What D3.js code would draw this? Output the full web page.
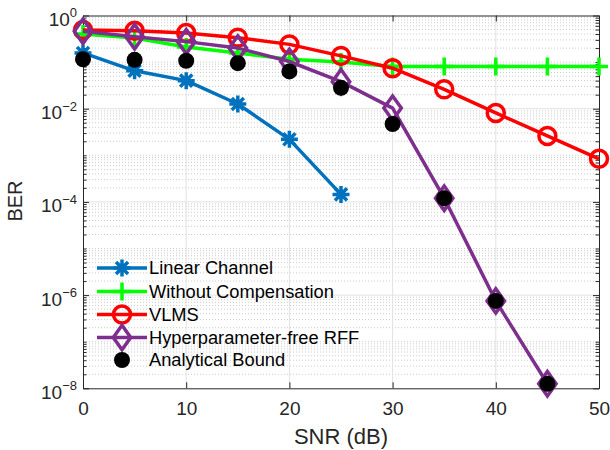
<!DOCTYPE html>
<html>
<head>
<meta charset="utf-8">
<script src="https://cdn.jsdelivr.net/npm/d3@7"></script>
<style>
  body { margin: 0; background: #fff; }
  svg { display: block; font-family: "Liberation Sans", Arial, Helvetica, sans-serif; }
</style>
</head>
<body>
<svg id="chart" width="610" height="450"></svg>
<script>
// data
const snr = [0, 5, 10, 15, 20, 25, 30, 35, 40, 45, 50];
const linearChannel = [0.157, 0.065, 0.04, 0.0126, 0.0022, 1.45e-4];
const withoutComp = [0.40, 0.33, 0.21, 0.156, 0.115, 0.10, 0.080, 0.080, 0.080, 0.080, 0.080];
const vlms = [0.49, 0.47, 0.42, 0.335, 0.24, 0.136, 0.074, 0.026, 0.0081, 0.0026, 8.4e-4];
const rff = [0.46, 0.35, 0.275, 0.20, 0.103, 0.038, 0.0103, 1.2e-4, 7.5e-7, 1.25e-8];
const bound = [0.115, 0.112, 0.107, 0.095, 0.063, 0.028, 0.0047, 1.2e-4, 7.5e-7, 1.25e-8];

const xTicks = [0, 10, 20, 30, 40, 50];
const yTicks = [1e0, 1e-2, 1e-4, 1e-6, 1e-8];
const yTickExp = ["0", "\u22122", "\u22124", "\u22126", "\u22128"];
const legendLabels = ["Linear Channel", "Without Compensation", "VLMS", "Hyperparameter-free RFF", "Analytical Bound"];

(() => {
  const width = 610;
  const height = 450;
  const margin = { top: 15.5, right: 11, bottom: 61.7, left: 83 };
  const innerWidth = width - margin.left - margin.right;
  const innerHeight = height - margin.top - margin.bottom;
  const axisColor = "#262626";

  const svg = d3.select("#chart");
  const g = svg.append("g")
    .attr("transform", `translate(${margin.left}, ${margin.top})`);

  const x = d3.scaleLinear().domain([0, 50]).range([0, innerWidth]);
  const y = d3.scaleLog().domain([1e-8, 1]).range([innerHeight, 0]);

  // minor values: 2..9 x 10^e plus the odd decades
  const minorVals = [];
  for (let e = -8; e < 0; e++) {
    for (let k = 1; k <= 9; k++) {
      const v = k * Math.pow(10, e);
      if (k === 1 && e % 2 === 0) continue;
      minorVals.push(v);
    }
  }

  // grid
  g.append("g").selectAll("line")
    .data(minorVals)
    .join("line")
    .attr("x1", 0).attr("x2", innerWidth)
    .attr("y1", d => y(d)).attr("y2", d => y(d))
    .attr("stroke", "#cccccc")
    .attr("stroke-width", 1)
    .attr("stroke-dasharray", "1,2");

  g.append("g").selectAll("line")
    .data(yTicks.slice(1, -1))
    .join("line")
    .attr("x1", 0).attr("x2", innerWidth)
    .attr("y1", d => y(d)).attr("y2", d => y(d))
    .attr("stroke", "#e2e2e2")
    .attr("stroke-width", 1);

  g.append("g").selectAll("line")
    .data(xTicks.slice(1, -1))
    .join("line")
    .attr("x1", d => x(d)).attr("x2", d => x(d))
    .attr("y1", 0).attr("y2", innerHeight)
    .attr("stroke", "#e2e2e2")
    .attr("stroke-width", 1);

  // axes
  const xAxis = g.append("g")
    .attr("transform", `translate(0, ${innerHeight})`)
    .call(d3.axisBottom(x).tickValues(xTicks).tickSize(-6).tickPadding(13).tickSizeOuter(0));
  xAxis.selectAll("text").style("font-size", "19px").attr("fill", axisColor);

  g.append("g")
    .call(d3.axisTop(x).tickValues(xTicks).tickSize(-6).tickFormat("").tickSizeOuter(0));

  const yAxis = g.append("g")
    .call(d3.axisLeft(y).tickValues(yTicks).tickSize(-6).tickPadding(6).tickSizeOuter(0).tickFormat(""));
  yAxis.selectAll(".tick text").each(function (d, i) {
    const t = d3.select(this).attr("dy", 10).attr("fill", axisColor).style("font-size", "19px");
    t.append("tspan").text("10");
    t.append("tspan").style("font-size", "13px").attr("dy", -8.6).text(yTickExp[i]);
  });

  g.append("g")
    .call(d3.axisLeft(y).tickValues(minorVals).tickSize(-3.5).tickFormat("").tickSizeOuter(0))
    .select(".domain").remove();

  g.append("g")
    .attr("transform", `translate(${innerWidth}, 0)`)
    .call(d3.axisRight(y).tickValues(yTicks).tickSize(-6).tickFormat("").tickSizeOuter(0));

  g.append("g")
    .attr("transform", `translate(${innerWidth}, 0)`)
    .call(d3.axisRight(y).tickValues(minorVals).tickSize(-3.5).tickFormat("").tickSizeOuter(0))
    .select(".domain").remove();

  g.selectAll(".domain, .tick line").attr("stroke", axisColor);

  // axis titles
  g.append("text")
    .attr("x", innerWidth / 2)
    .attr("y", innerHeight + 56)
    .attr("text-anchor", "middle")
    .attr("fill", axisColor)
    .style("font-size", "22px")
    .text("SNR (dB)");

  g.append("text")
    .attr("transform", "rotate(-90)")
    .attr("x", -(201 - margin.top))
    .attr("y", -61)
    .attr("text-anchor", "middle")
    .attr("fill", axisColor)
    .style("font-size", "20px")
    .text("BER");

  // marker shapes
  const markers = {
    asterisk: r => `M0,${-r}V${r}M${-r},0H${r}M${-r * 0.71},${-r * 0.71}L${r * 0.71},${r * 0.71}M${-r * 0.71},${r * 0.71}L${r * 0.71},${-r * 0.71}`,
    plus: r => `M0,${-r}V${r}M${-r},0H${r}`,
    circle: r => `M${r},0A${r},${r} 0 1,1 ${-r},0A${r},${r} 0 1,1 ${r},0Z`,
    diamond: r => `M0,${-r * 1.4}L${r},0L0,${r * 1.4}L${-r},0Z`
  };

  const series = [
    { values: linearChannel, color: "#0072BD", marker: "asterisk", size: 8.5, fill: "none", line: true },
    { values: withoutComp, color: "#00FF00", marker: "plus", size: 9, fill: "none", line: true },
    { values: vlms, color: "#FF0000", marker: "circle", size: 8.5, fill: "none", line: true },
    { values: rff, color: "#7E2F8E", marker: "diamond", size: 8.7, fill: "none", line: true },
    { values: bound, color: "#000000", marker: "circle", size: 8, fill: "#000000", line: false }
  ];

  const line = d3.line()
    .x((d, i) => x(snr[i]))
    .y(d => y(d));

  series.forEach(s => {
    if (s.line) {
      g.append("path")
        .datum(s.values)
        .attr("fill", "none")
        .attr("stroke", s.color)
        .attr("stroke-width", 3.5)
        .attr("stroke-linejoin", "round")
        .attr("d", line);
    }
    g.append("g").selectAll("path")
      .data(s.values)
      .join("path")
      .attr("transform", (d, i) => `translate(${x(snr[i])}, ${y(d)})`)
      .attr("d", markers[s.marker](s.size))
      .attr("fill", s.fill)
      .attr("stroke", s.color)
      .attr("stroke-width", s.line ? 3.5 : 0);
  });

  // legend (no box)
  const legend = svg.append("g");
  const rowY = [268, 291.5, 314.5, 337.5, 360];
  series.forEach((s, i) => {
    const row = legend.append("g").attr("transform", `translate(0, ${rowY[i]})`);
    if (s.line) {
      row.append("line")
        .attr("x1", 97).attr("x2", 147)
        .attr("stroke", s.color)
        .attr("stroke-width", 3.5);
    }
    row.append("path")
      .attr("transform", "translate(122, 0)")
      .attr("d", markers[s.marker](s.size))
      .attr("fill", s.fill)
      .attr("stroke", s.color)
      .attr("stroke-width", s.line ? 3.5 : 0);
    row.append("text")
      .attr("x", 149)
      .attr("dy", "0.35em")
      .attr("fill", "#000")
      .style("font-size", "18.3px")
      .text(legendLabels[i]);
  });
})();
</script>
</body>
</html>
